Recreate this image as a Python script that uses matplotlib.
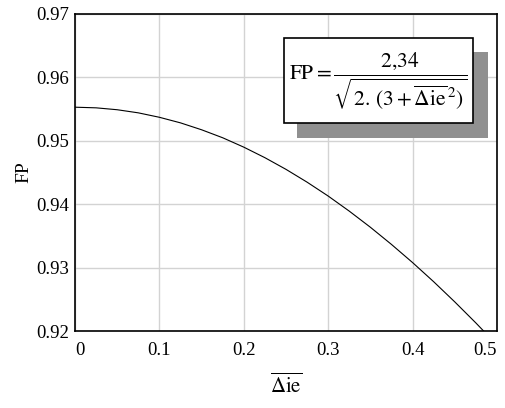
import numpy as np
import matplotlib
matplotlib.use('Agg')
import matplotlib.pyplot as plt
from matplotlib.patches import Rectangle

plt.rcParams['font.family'] = ['Liberation Serif', 'DejaVu Serif']
plt.rcParams['mathtext.fontset'] = 'stix'

# values
die = [0.0, 0.025, 0.05, 0.075, 0.1, 0.125, 0.15, 0.175, 0.2, 0.225, 0.25,
       0.275, 0.3, 0.325, 0.35, 0.375, 0.4, 0.425, 0.45, 0.475, 0.5]
fp = [0.95530, 0.95520, 0.95490, 0.95441, 0.95371, 0.95283, 0.95174,
      0.95048, 0.94900, 0.94734, 0.94550, 0.94348, 0.94129, 0.93891,
      0.93637, 0.93366, 0.93080, 0.92778, 0.92460, 0.92128, 0.91782]
xticks = [0, 0.1, 0.2, 0.3, 0.4, 0.5]
xticklabels = ['0', '0.1', '0.2', '0.3', '0.4', '0.5']
yticks = [0.92, 0.93, 0.94, 0.95, 0.96, 0.97]

fig = plt.figure(figsize=(5.05, 4.08), dpi=100)
ax = fig.add_axes([0.1485, 0.1887, 0.8355, 0.777])
ax.plot(die, fp, color='black', lw=0.8)
ax.set_xlim(0, 0.5)
ax.set_ylim(0.92, 0.97)
ax.set_xticks(xticks)
labs = ax.set_xticklabels(xticklabels, fontsize=13.5)
labs[0].set_ha('left')
labs[-1].set_ha('right')
ax.set_yticks(yticks)
ax.set_yticklabels(['%.2f' % v for v in yticks], fontsize=13.5)
ax.tick_params(axis='y', length=0, pad=4)
ax.tick_params(axis='x', length=0, pad=8)
ax.grid(True, color='#d3d3d3', lw=1)
for s in ax.spines.values():
    s.set_linewidth(1.2)
ax.set_xlabel(r'$\overline{\Delta\mathrm{ie}}$', fontsize=15, labelpad=10)
ax.set_ylabel('FP', fontsize=14, labelpad=3)

# formula box with shadow (figure pixel coords)
W, H = 505, 408
def fbox(x0, y0, x1, y1, **kw):
    return Rectangle((x0 / W, 1 - y1 / H), (x1 - x0) / W, (y1 - y0) / H,
                     transform=fig.transFigure, **kw)
fig.patches.append(fbox(297, 52, 488, 138, facecolor='#909090', edgecolor='none', zorder=5))
fig.patches.append(fbox(284, 38, 473, 123, facecolor='white', edgecolor='black', lw=1.2, zorder=6))
fig.text(378.5 / W, 1 - 81 / H,
         r'$\mathrm{FP} = \dfrac{2{,}34}{\sqrt{2.\,(3+\overline{\Delta\mathrm{ie}}^{\,2})}}$',
         fontsize=15.5, ha='center', va='center', zorder=7)

fig.savefig('out.png', dpi=100)
